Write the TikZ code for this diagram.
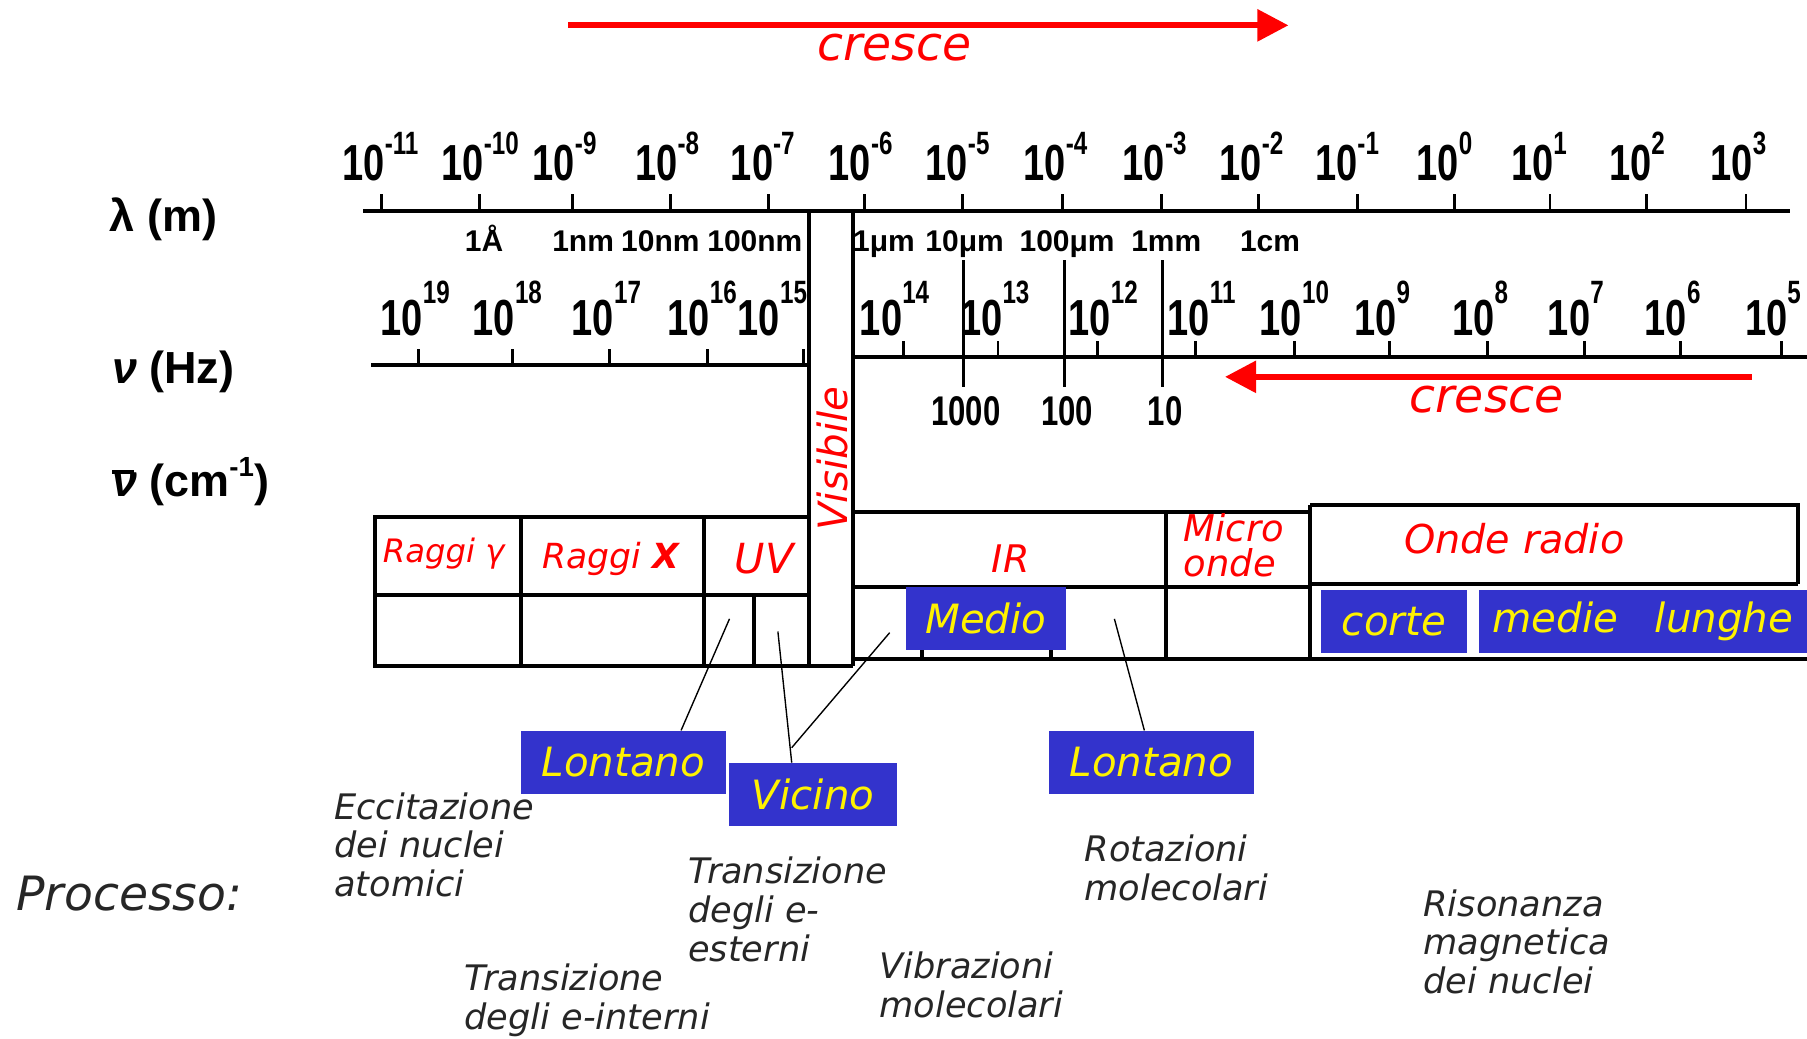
\documentclass[tikz,border=0pt]{standalone}
\usepackage{fontspec}
\setmainfont{DejaVu Sans}
\newfontfamily\axf[FakeStretch=0.75]{Liberation Sans}
\newfontfamily\lbf{Liberation Sans}
\usetikzlibrary{arrows.meta}
\definecolor{boxblue}{RGB}{51,51,204}
\newcommand\lexp[1]{\raisebox{23pt}{\fontsize{28}{28}\selectfont#1}}
\newcommand\nexp[1]{\raisebox{28pt}{\fontsize{28}{28}\selectfont#1}}
\tikzset{
  ax/.style={line width=3.5pt},
  tk/.style={line width=2.5pt},
  pw/.style={inner sep=0pt, anchor=base west, font=\axf\bfseries\fontsize{44}{44}\selectfont},
  sublab/.style={inner sep=0pt, anchor=base, font=\lbf\bfseries\fontsize{26}{26}\selectfont},
  wn/.style={inner sep=0pt, font=\axf\bfseries\fontsize{36}{36}\selectfont},
  axname/.style={inner sep=0pt, anchor=west, font=\lbf\bfseries\fontsize{39}{39}\selectfont},
  cell/.style={inner sep=0pt, text=red, font=\itshape\fontsize{33}{33}\selectfont},
  bluebox/.style={fill=boxblue, text=yellow, inner sep=0pt, font=\itshape\fontsize{35}{35}\selectfont},
  proc/.style={inner sep=0pt, align=left, anchor=base west, text=black!85, font=\itshape\fontsize{30.5}{33.5}\selectfont},
  conn/.style={line width=1.2pt},
  redarrow/.style={red, line width=5pt, -{Triangle[length=27pt,width=27pt]}},
  redlab/.style={inner sep=0pt, text=red, font=\itshape\fontsize{41}{41}\selectfont},
}
\begin{document}
\begin{tikzpicture}[x=1pt,y=-1pt]
\useasboundingbox (0,0) rectangle (1568,901);

% top arrow
\coordinate (ta1) at (493,22);
\coordinate (ta2) at (1118,22);
\draw[redarrow] (ta1) -- (ta2);
\node[redlab] (cr1) at (776,41) {cresce};

% axis names
\node[axname] (lamname) at (95,190) {λ (m)};
\node[axname] (nuname) at (97,323) {{\itshape ν} (Hz)};
\node[axname] (wnname) at (97,418) {\rlap{\raisebox{0.5em}{\rule{0.5em}{0.09em}}}{\itshape ν} (cm\raisebox{0.45em}{\fontsize{24}{24}\selectfont -1})};

% lambda axis
\draw[ax] (315,183) -- (1553,183);
\foreach \tx in {331,416,497,582,667,750,835,922,1008,1092,1178,1262,1345,1429,1515}
  \draw[tk] (\tx,183) -- (\tx,168);
\foreach \lx/\ee [count=\i] in {297/-11,383/-10,462/-9,551/-8,634/-7,719/-6,803/-5,888/-4,974/-3,1058/-2,1141/-1,1229/0,1311/1,1396/2,1484/3}
  \node[pw] (lam\i) at (\lx,157) {10\lexp{\ee}};

% sub labels
\foreach \sx/\st [count=\i] in {420/1Å,506/1nm,573/10nm,655/100nm,767/1μm,837/10μm,926/100μm,1012/1mm,1102/1cm}
  \node[sublab] (sub\i) at (\sx,218) {\st};

% nu axis
\draw[ax] (322,317) -- (702,317);
\draw[ax] (740,310) -- (1568,310);
\foreach \tx in {363,445,529,614,697}
  \draw[tk] (\tx,317) -- (\tx,303);
\foreach \tx in {784,866,952,1037,1123,1206,1291,1375,1458,1546}
  \draw[tk] (\tx,310) -- (\tx,296);
\foreach \lx/\ee [count=\i] in {330/19,410/18,496/17,579/16,640/15,746/14,833/13,927/12,1013/11,1093/10,1175/9,1260/8,1343/7,1427/6,1514/5}
  \node[pw] (nu\i) at (\lx,291) {10\nexp{\ee}};

% wavenumber ticks
\foreach \tx/\wl [count=\i] in {836/1000,924/100,1009/10}{
  \draw[tk] (\tx,226) -- (\tx,336);
  \node[wn] (wn\i) at (\tx+2,357) {\wl};
}

% second arrow
\coordinate (sa1) at (1520,327);
\coordinate (sa2) at (1063,327);
\draw[redarrow] (sa1) -- (sa2);
\node[redlab] (cr2) at (1290,347) {cresce};

% visible strip
\draw[ax] (702,183) -- (702,578);
\draw[ax] (740,183) -- (740,578);
\node[cell, rotate=90, font=\itshape\fontsize{35}{35}\selectfont] (vis) at (722,398) {Visibile};

% left table
\draw[ax] (325,449) -- (702,449);
\draw[ax] (325,516) -- (702,516);
\draw[ax] (325,578) -- (740,578);
\draw[ax] (325,447) -- (325,580);
\draw[ax] (452,449) -- (452,578);
\draw[ax] (611,449) -- (611,578);
\draw[ax] (654,516) -- (654,578);

% right table
\draw[ax] (740,444) -- (1137,444);
\draw[ax] (1137,438) -- (1560,438) -- (1560,507);
\draw[ax] (740,509) -- (1137,509);
\draw[ax] (1137,507) -- (1560,507);
\draw[ax] (740,572) -- (1568,572);
\draw[ax] (1012,444) -- (1012,572);
\draw[ax] (1137,438) -- (1137,572);
\draw[ax] (800,509) -- (800,572);
\draw[ax] (912,509) -- (912,572);

% cell labels
\node[cell, font=\itshape\fontsize{28}{28}\selectfont] (gam) at (385,480) {Raggi γ};
\node[cell, font=\itshape\fontsize{30}{30}\selectfont] (xr) at (530,485) {Raggi {\bfseries X}};
\node[cell, font=\itshape\fontsize{36}{36}\selectfont] (uv) at (663,485) {UV};
\node[cell] (ir) at (877,485) {IR};
\node[cell, align=left, anchor=west, font=\itshape\fontsize{32}{30}\selectfont] (mo) at (1027,473) {Micro\\onde};
\node[cell, font=\itshape\fontsize{34.5}{34.5}\selectfont] (or) at (1314,467) {Onde radio};

% blue boxes
\node[bluebox, minimum width=139, minimum height=55] (medio) at (855.5,536.5) {Medio};
\node[bluebox, minimum width=127, minimum height=55] (corte) at (1209.5,539.5) {corte};
\node[bluebox, minimum width=285, minimum height=55] (ml) at (1425.5,539.5) {medie\hspace{32pt}lunghe};
\node[bluebox, minimum width=178, minimum height=55] (lont1) at (541,661.5) {Lontano};
\node[bluebox, minimum width=145, minimum height=55] (vic) at (705.5,689.5) {Vicino};
\node[bluebox, minimum width=178, minimum height=55] (lont2) at (999,661.5) {Lontano};

% connectors
\coordinate (p1) at (633,537);
\coordinate (p2) at (675,548);
\coordinate (p3) at (772,549);
\coordinate (p4) at (967,537);
\draw[conn] ([xshift=50pt]lont1.north) -- (p1);
\draw[conn] ([xshift=-18.5pt]vic.north) -- (p2);
\draw[conn] ([xshift=-18.5pt,yshift=13pt]vic.north) -- (p3);
\draw[conn] ([xshift=-6pt]lont2.north) -- (p4);

% process labels (base = baseline of last line)
\node[inner sep=0pt, anchor=base west, text=black!85, font=\itshape\fontsize{41}{41}\selectfont] (proc) at (14,790) {Processo:};
\node[proc] (pa) at (290,778) {Eccitazione\\dei nuclei\\atomici};
\node[proc] (pb) at (403,893) {Transizione\\degli e-interni};
\node[proc] (pc) at (597,834) {Transizione\\degli e-\\esterni};
\node[proc] (pd) at (763,883) {Vibrazioni\\molecolari};
\node[proc] (pe) at (941,781) {Rotazioni\\molecolari};
\node[proc] (pf) at (1235,862) {Risonanza\\magnetica\\dei nuclei};
\end{tikzpicture}
\end{document}
